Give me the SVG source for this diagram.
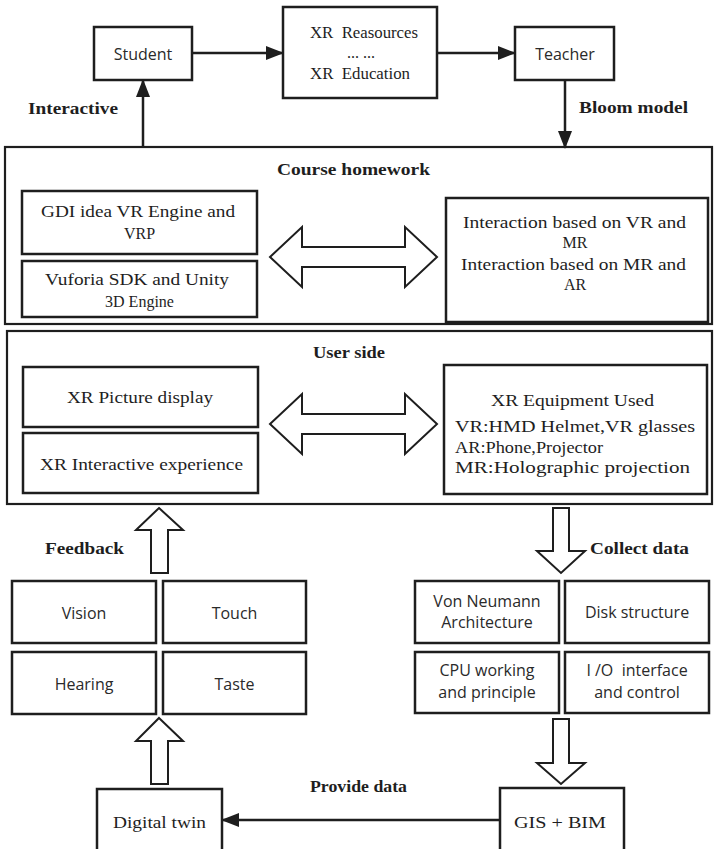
<svg xmlns="http://www.w3.org/2000/svg" width="714" height="849" viewBox="0 0 714 849">
  <defs>
    <marker id="head" viewBox="0 0 18 14" refX="17" refY="7" markerWidth="18" markerHeight="14" markerUnits="userSpaceOnUse" orient="auto">
      <path d="M0,0 L18,7 L0,14 Z" fill="#1e1e1e"/>
    </marker>
    <style>
      .box { fill: #fff; stroke: #1e1e1e; stroke-width: 2.5; }
      .frame { fill: none; stroke: #1e1e1e; stroke-width: 2.2; }
      .conn { fill: none; stroke: #1e1e1e; stroke-width: 2.5; }
      .block { fill: #fff; stroke: #1e1e1e; stroke-width: 2; stroke-linejoin: miter; }
      .serif { font-family: "Liberation Serif", "Times New Roman", serif; font-size: 16px; fill: #1e1e1e; }
      .bold { font-family: "Liberation Serif", "Times New Roman", serif; font-size: 17px; font-weight: bold; fill: #1e1e1e; }
      .sans { font-family: "Open Sans", "Noto Sans", "DejaVu Sans", sans-serif; font-size: 16px; fill: #2a2a2a; }
      .mid { text-anchor: middle; }
    </style>
  </defs>
  <rect width="714" height="849" fill="#fff"/>

  <!-- section frames -->
  <g id="course-homework">
    <rect class="frame" x="5" y="147" width="707" height="177"/>
    <text class="bold" x="277" y="175" textLength="153" lengthAdjust="spacingAndGlyphs">Course homework</text>
  </g>
  <g id="user-side">
    <rect class="frame" x="7" y="331" width="705" height="173"/>
    <text class="bold" x="313" y="358" textLength="72" lengthAdjust="spacingAndGlyphs">User side</text>
  </g>

  <!-- top row -->
  <g id="student">
    <rect class="box" x="94" y="27" width="98" height="53"/>
    <text class="sans mid" x="143" y="60" font-size="17">Student</text>
  </g>
  <g id="xr-resources">
    <rect class="box" x="283" y="7" width="154" height="91"/>
    <text class="serif" x="310" y="38" font-size="14" textLength="108" lengthAdjust="spacingAndGlyphs" xml:space="preserve">XR  Reasources</text>
    <text class="serif mid" x="361" y="58" font-size="11">... ...</text>
    <text class="serif" x="310" y="79" font-size="14" textLength="100" lengthAdjust="spacingAndGlyphs" xml:space="preserve">XR  Education</text>
  </g>
  <g id="teacher">
    <rect class="box" x="515" y="27" width="99" height="53"/>
    <text class="sans mid" x="565" y="60" font-size="17">Teacher</text>
  </g>

  <!-- course homework contents -->
  <g id="gdi-engine">
    <rect class="box" x="22" y="191" width="235" height="63"/>
    <text class="serif" x="41" y="217" textLength="194" lengthAdjust="spacingAndGlyphs">GDI idea VR Engine and</text>
    <text class="serif mid" x="139.5" y="239" font-size="17">VRP</text>
  </g>
  <g id="vuforia">
    <rect class="box" x="22" y="261" width="235" height="56"/>
    <text class="serif" x="45" y="285" textLength="184" lengthAdjust="spacingAndGlyphs">Vuforia SDK and Unity</text>
    <text class="serif mid" x="139.5" y="307" font-size="17">3D Engine</text>
  </g>
  <g id="interaction">
    <rect class="box" x="446" y="198" width="262" height="124"/>
    <text class="serif" x="463" y="228" textLength="223" lengthAdjust="spacingAndGlyphs">Interaction based on VR and</text>
    <text class="serif mid" x="575" y="248" font-size="17">MR</text>
    <text class="serif" x="461" y="270" textLength="225" lengthAdjust="spacingAndGlyphs">Interaction based on MR and</text>
    <text class="serif mid" x="575" y="290" font-size="17">AR</text>
  </g>

  <!-- user side contents -->
  <g id="picture-display">
    <rect class="box" x="23" y="367" width="235" height="60"/>
    <text class="serif" x="67" y="403" textLength="146" lengthAdjust="spacingAndGlyphs">XR Picture display</text>
  </g>
  <g id="interactive-experience">
    <rect class="box" x="23" y="433" width="235" height="60"/>
    <text class="serif" x="40" y="470" textLength="203" lengthAdjust="spacingAndGlyphs">XR Interactive experience</text>
  </g>
  <g id="equipment">
    <rect class="box" x="444" y="365" width="263" height="129"/>
    <text class="serif" x="491" y="406" textLength="163" lengthAdjust="spacingAndGlyphs">XR Equipment Used</text>
    <text class="serif" x="455" y="432" textLength="240" lengthAdjust="spacingAndGlyphs">VR:HMD Helmet,VR glasses</text>
    <text class="serif" x="455" y="453" textLength="148" lengthAdjust="spacingAndGlyphs">AR:Phone,Projector</text>
    <text class="serif" x="455" y="473" textLength="235" lengthAdjust="spacingAndGlyphs">MR:Holographic projection</text>
  </g>

  <!-- senses -->
  <g id="vision">
    <rect class="box" x="12" y="581" width="144" height="62"/>
    <text class="sans mid" x="84" y="619">Vision</text>
  </g>
  <g id="touch">
    <rect class="box" x="163" y="581" width="143" height="62"/>
    <text class="sans mid" x="234.5" y="619">Touch</text>
  </g>
  <g id="hearing">
    <rect class="box" x="12" y="652" width="144" height="62"/>
    <text class="sans mid" x="84" y="690">Hearing</text>
  </g>
  <g id="taste">
    <rect class="box" x="163" y="652" width="143" height="62"/>
    <text class="sans mid" x="234.5" y="690">Taste</text>
  </g>

  <!-- computer topics -->
  <g id="von-neumann">
    <rect class="box" x="415" y="581" width="144" height="62"/>
    <text class="sans mid" x="487" y="607">Von Neumann</text>
    <text class="sans mid" x="487" y="628">Architecture</text>
  </g>
  <g id="disk-structure">
    <rect class="box" x="565" y="581" width="144" height="62"/>
    <text class="sans mid" x="637" y="618">Disk structure</text>
  </g>
  <g id="cpu">
    <rect class="box" x="415" y="652" width="144" height="61"/>
    <text class="sans mid" x="487" y="676">CPU working</text>
    <text class="sans mid" x="487" y="698">and principle</text>
  </g>
  <g id="io">
    <rect class="box" x="565" y="652" width="144" height="61"/>
    <text class="sans mid" x="637" y="676" xml:space="preserve">I /O  interface</text>
    <text class="sans mid" x="637" y="698">and control</text>
  </g>

  <!-- bottom row -->
  <g id="digital-twin">
    <rect class="box" x="97" y="789" width="125" height="64"/>
    <text class="serif" x="113" y="828" textLength="93" lengthAdjust="spacingAndGlyphs">Digital twin</text>
  </g>
  <g id="gis-bim">
    <rect class="box" x="500" y="788" width="124" height="65"/>
    <text class="serif" x="514" y="828" textLength="92" lengthAdjust="spacingAndGlyphs">GIS + BIM</text>
  </g>

  <!-- connectors -->
  <g id="connectors">
    <line class="conn" x1="192" y1="53" x2="283" y2="53" marker-end="url(#head)"/>
    <line class="conn" x1="437" y1="53" x2="515" y2="53" marker-end="url(#head)"/>
    <line class="conn" x1="565" y1="80" x2="565" y2="148" marker-end="url(#head)"/>
    <line class="conn" x1="143" y1="147" x2="143" y2="80" marker-end="url(#head)"/>
    <line class="conn" x1="500" y1="820" x2="222" y2="820" marker-end="url(#head)"/>

    <!-- two-way block arrows -->
    <polygon class="block" points="270,257 302,227 302,247 405,247 405,227 437,257 405,287 405,267 302,267 302,287"/>
    <polygon class="block" points="270,424 302,394 302,414 405,414 405,394 437,424 405,454 405,434 302,434 302,454"/>

    <!-- one-way block arrows -->
    <polygon class="block" points="159,508 183,530 168,530 168,573 151,573 151,530 136,530"/>
    <polygon class="block" points="159,718 183,741 168,741 168,784 151,784 151,741 136,741"/>
    <polygon class="block" points="553,508 569,508 569,551 585,551 561,573 537,551 553,551"/>
    <polygon class="block" points="553,719 569,719 569,763 585,763 561,784 537,763 553,763"/>

    <text class="bold" x="28" y="114" textLength="90" lengthAdjust="spacingAndGlyphs">Interactive</text>
    <text class="bold" x="579" y="113" textLength="109" lengthAdjust="spacingAndGlyphs">Bloom model</text>
    <text class="bold" x="45" y="554" textLength="79" lengthAdjust="spacingAndGlyphs">Feedback</text>
    <text class="bold" x="590" y="554" textLength="99" lengthAdjust="spacingAndGlyphs">Collect data</text>
    <text class="bold" x="310" y="792" textLength="97" lengthAdjust="spacingAndGlyphs">Provide data</text>
  </g>
</svg>
